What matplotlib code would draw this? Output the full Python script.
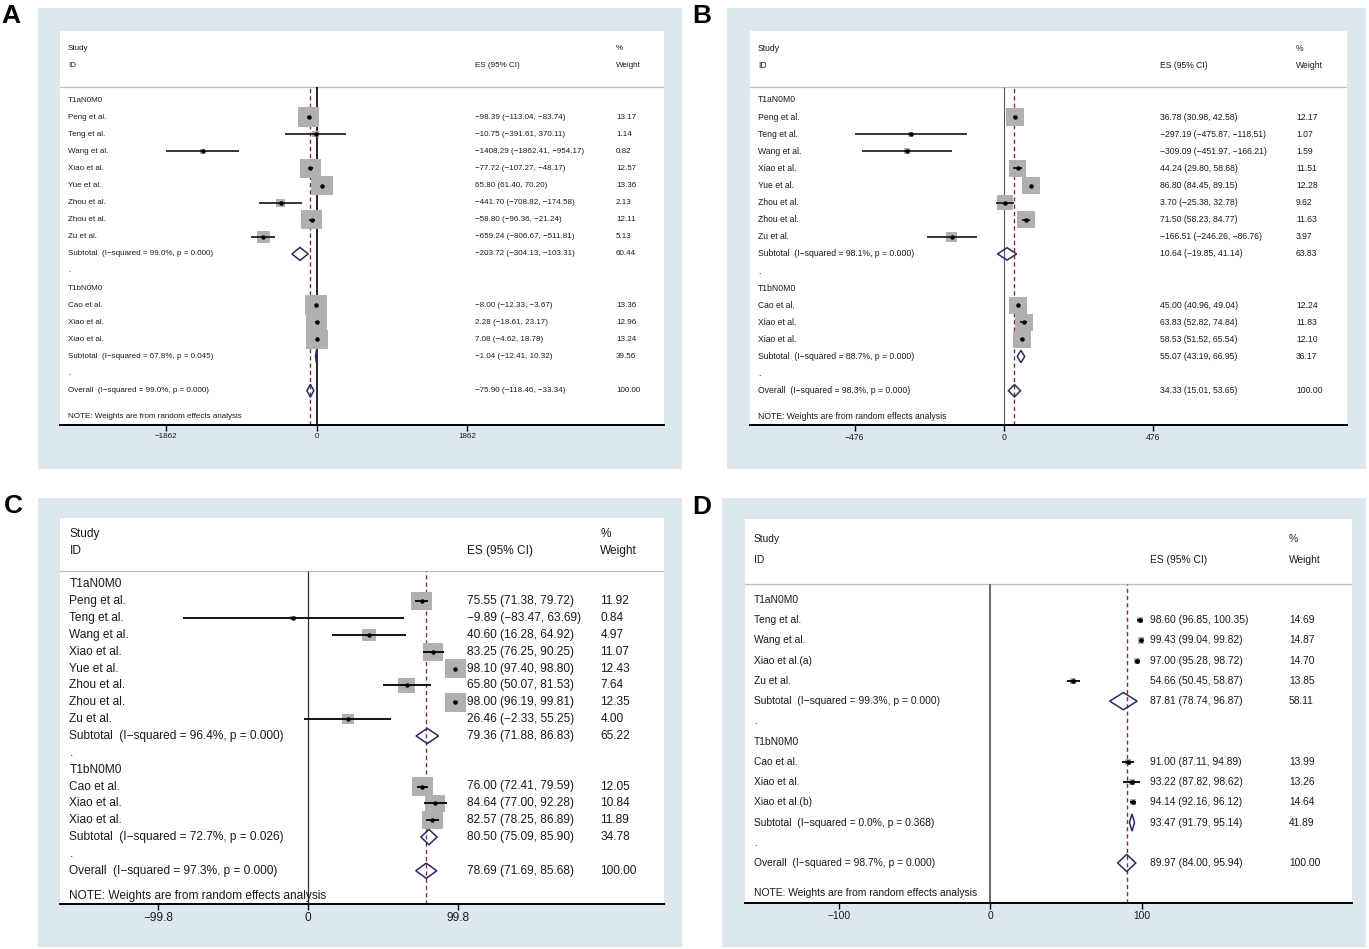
import matplotlib
matplotlib.use('Agg')
import matplotlib.pyplot as plt
from matplotlib.patches import Rectangle, Polygon
import numpy as np

plt.rcParams['font.family'] = ['Liberation Sans', 'DejaVu Sans']

# ---------------- DATA ----------------
group_names = ["T1aN0M0", "T1bN0M0"]

# Panel A
A_g1_study = ["Peng et al.", "Teng et al.", "Wang et al.", "Xiao et al.", "Yue et al.", "Zhou et al.", "Zhou et al.", "Zu et al."]
A_g1_es = [-98.39, -10.75, -1408.29, -77.72, 65.80, -441.70, -58.80, -659.24]
A_g1_lo = [-113.04, -391.61, -1862.41, -107.27, 61.40, -708.82, -96.36, -806.67]
A_g1_hi = [-83.74, 370.11, -954.17, -48.17, 70.20, -174.58, -21.24, -511.81]
A_g1_w = [13.17, 1.14, 0.82, 12.57, 13.36, 2.13, 12.11, 5.13]
A_g2_study = ["Cao et al.", "Xiao et al.", "Xiao et al."]
A_g2_es = [-8.00, 2.28, 7.08]
A_g2_lo = [-12.33, -18.61, -4.62]
A_g2_hi = [-3.67, 23.17, 18.78]
A_g2_w = [13.36, 12.96, 13.24]
A_sum_es = [-203.72, -1.04, -75.90]
A_sum_lo = [-304.13, -12.41, -118.46]
A_sum_hi = [-103.31, 10.32, -33.34]
A_sum_w = [60.44, 39.56, 100.00]
A_sum_i2 = [99.0, 67.8, 99.0]
A_sum_p = [0.000, 0.045, 0.000]
A_ticks = [-1862, 0, 1862]

# Panel B
B_g1_study = ["Peng et al.", "Teng et al.", "Wang et al.", "Xiao et al.", "Yue et al.", "Zhou et al.", "Zhou et al.", "Zu et al."]
B_g1_es = [36.78, -297.19, -309.09, 44.24, 86.80, 3.70, 71.50, -166.51]
B_g1_lo = [30.98, -475.87, -451.97, 29.80, 84.45, -25.38, 58.23, -246.26]
B_g1_hi = [42.58, -118.51, -166.21, 58.68, 89.15, 32.78, 84.77, -86.76]
B_g1_w = [12.17, 1.07, 1.59, 11.51, 12.28, 9.62, 11.63, 3.97]
B_g2_study = ["Cao et al.", "Xiao et al.", "Xiao et al."]
B_g2_es = [45.00, 63.83, 58.53]
B_g2_lo = [40.96, 52.82, 51.52]
B_g2_hi = [49.04, 74.84, 65.54]
B_g2_w = [12.24, 11.83, 12.10]
B_sum_es = [10.64, 55.07, 34.33]
B_sum_lo = [-19.85, 43.19, 15.01]
B_sum_hi = [41.14, 66.95, 53.65]
B_sum_w = [63.83, 36.17, 100.00]
B_sum_i2 = [98.1, 88.7, 98.3]
B_sum_p = [0.000, 0.000, 0.000]
B_ticks = [-476, 0, 476]

# Panel C
C_g1_study = ["Peng et al.", "Teng et al.", "Wang et al.", "Xiao et al.", "Yue et al.", "Zhou et al.", "Zhou et al.", "Zu et al."]
C_g1_es = [75.55, -9.89, 40.60, 83.25, 98.10, 65.80, 98.00, 26.46]
C_g1_lo = [71.38, -83.47, 16.28, 76.25, 97.40, 50.07, 96.19, -2.33]
C_g1_hi = [79.72, 63.69, 64.92, 90.25, 98.80, 81.53, 99.81, 55.25]
C_g1_w = [11.92, 0.84, 4.97, 11.07, 12.43, 7.64, 12.35, 4.00]
C_g2_study = ["Cao et al.", "Xiao et al.", "Xiao et al."]
C_g2_es = [76.00, 84.64, 82.57]
C_g2_lo = [72.41, 77.00, 78.25]
C_g2_hi = [79.59, 92.28, 86.89]
C_g2_w = [12.05, 10.84, 11.89]
C_sum_es = [79.36, 80.50, 78.69]
C_sum_lo = [71.88, 75.09, 71.69]
C_sum_hi = [86.83, 85.90, 85.68]
C_sum_w = [65.22, 34.78, 100.00]
C_sum_i2 = [96.4, 72.7, 97.3]
C_sum_p = [0.000, 0.026, 0.000]
C_ticks = [-99.8, 0, 99.8]

# Panel D
D_g1_study = ["Teng et al.", "Wang et al.", "Xiao et al.(a)", "Zu et al."]
D_g1_es = [98.60, 99.43, 97.00, 54.66]
D_g1_lo = [96.85, 99.04, 95.28, 50.45]
D_g1_hi = [100.35, 99.82, 98.72, 58.87]
D_g1_w = [14.69, 14.87, 14.70, 13.85]
D_g2_study = ["Cao et al.", "Xiao et al.", "Xiao et al.(b)"]
D_g2_es = [91.00, 93.22, 94.14]
D_g2_lo = [87.11, 87.82, 92.16]
D_g2_hi = [94.89, 98.62, 96.12]
D_g2_w = [13.99, 13.26, 14.64]
D_sum_es = [87.81, 93.47, 89.97]
D_sum_lo = [78.74, 91.79, 84.00]
D_sum_hi = [96.87, 95.14, 95.94]
D_sum_w = [58.11, 41.89, 100.00]
D_sum_i2 = [99.3, 0.0, 98.7]
D_sum_p = [0.000, 0.368, 0.000]
D_ticks = [-100, 0, 100]

# ---------------- LAYOUT / STYLE ----------------
W, H = 1369, 949
BG = '#dde7ee'
BOX = '#b0b0b0'
NAVY = '#2a2a66'
RED = '#8e2a36'
TXT = '#1a1a1a'

layouts = {
    'A': dict(bg=(38, 8, 682, 469), white=(60, 31, 664, 425), p0=316.5, ppu=150.5 / 1862,
              r0=100, dr=17.1, hdr=87.3, cx_lab=68, cx_es=475, cx_w=616, fs=5.75,
              kw=5.9, kh=5.35, dh=0.76, zc='black', zlw=1.2, ci_lw=1.1, ms=3.2,
              lab=(11, 16)),
    'B': dict(bg=(727, 8, 1366, 469), white=(750, 31, 1347, 425), p0=1003.7, ppu=149 / 476,
              r0=100, dr=17.1, hdr=86.7, cx_lab=758, cx_es=1160, cx_w=1296, fs=6.2,
              kw=5.25, kh=4.95, dh=0.72, zc='#555555', zlw=0.8, ci_lw=1.1, ms=3.2,
              lab=(702, 16)),
    'C': dict(bg=(38, 498, 682, 947), white=(60, 518, 664, 904), p0=308, ppu=150 / 99.8,
              r0=584.3, dr=16.85, hdr=571, cx_lab=69.4, cx_es=467, cx_w=600.4, fs=8.6,
              kw=6.1, kh=5.3, dh=0.9, zc='#333333', zlw=0.9, ci_lw=1.3, ms=3.2,
              lab=(13, 506)),
    'D': dict(bg=(722, 498, 1366, 947), white=(745, 519, 1352, 903), p0=990.4, ppu=151.5 / 100,
              r0=600, dr=20.23, hdr=584, cx_lab=754, cx_es=1150, cx_w=1289, fs=7.4,
              kw=1.6, kh=1.6, dh=0.85, zc='#6e6e6e', zlw=1.5, ci_lw=1.3, ms=3.4,
              lab=(702, 507)),
}

panels = {
    'A': dict(g1=(A_g1_study, A_g1_es, A_g1_lo, A_g1_hi, A_g1_w),
              g2=(A_g2_study, A_g2_es, A_g2_lo, A_g2_hi, A_g2_w),
              s=(A_sum_es, A_sum_lo, A_sum_hi, A_sum_w, A_sum_i2, A_sum_p), ticks=A_ticks),
    'B': dict(g1=(B_g1_study, B_g1_es, B_g1_lo, B_g1_hi, B_g1_w),
              g2=(B_g2_study, B_g2_es, B_g2_lo, B_g2_hi, B_g2_w),
              s=(B_sum_es, B_sum_lo, B_sum_hi, B_sum_w, B_sum_i2, B_sum_p), ticks=B_ticks),
    'C': dict(g1=(C_g1_study, C_g1_es, C_g1_lo, C_g1_hi, C_g1_w),
              g2=(C_g2_study, C_g2_es, C_g2_lo, C_g2_hi, C_g2_w),
              s=(C_sum_es, C_sum_lo, C_sum_hi, C_sum_w, C_sum_i2, C_sum_p), ticks=C_ticks),
    'D': dict(g1=(D_g1_study, D_g1_es, D_g1_lo, D_g1_hi, D_g1_w),
              g2=(D_g2_study, D_g2_es, D_g2_lo, D_g2_hi, D_g2_w),
              s=(D_sum_es, D_sum_lo, D_sum_hi, D_sum_w, D_sum_i2, D_sum_p), ticks=D_ticks),
}


def num(v):
    return f"{v:.2f}".replace('-', '\u2212')


def tick_txt(v):
    s = f"{v:g}"
    return s.replace('-', '\u2212')


fig = plt.figure(figsize=(W / 100, H / 100), dpi=100)
fig.patch.set_facecolor('white')

# background panels drawn on an axes underneath everything
bg_ax = fig.add_axes([0, 0, 1, 1], zorder=-10)
bg_ax.set_xlim(0, W)
bg_ax.set_ylim(H, 0)
bg_ax.axis('off')


def draw(name):
    L = layouts[name]
    Dd = panels[name]
    bx0, by0, bx1, by1 = L['bg']
    bg_ax.add_patch(Rectangle((bx0, by0), bx1 - bx0, by1 - by0, facecolor=BG, edgecolor='none'))
    bg_ax.text(L['lab'][0], L['lab'][1], name, fontsize=19, fontweight='bold',
               ha='center', va='center', color='black')
    x0, y0, x1, y1 = L['white']
    ax = fig.add_axes([x0 / W, 1 - y1 / H, (x1 - x0) / W, (y1 - y0) / H], zorder=1)
    ax.set_facecolor('white')
    p0, ppu, r0, dr = L['p0'], L['ppu'], L['r0'], L['dr']
    xd = lambda px: (px - p0) / ppu
    yd = lambda py: (py - r0) / dr
    ybot = yd(y1)
    ax.set_xlim(xd(x0), xd(x1))
    ax.set_ylim(ybot, yd(y0))
    for s in ['top', 'left', 'right']:
        ax.spines[s].set_visible(False)
    ax.spines['bottom'].set_linewidth(1.4)
    ax.spines['bottom'].set_color('black')
    ax.set_yticks([])
    ax.set_xticks(Dd['ticks'])
    ax.set_xticklabels([tick_txt(t) for t in Dd['ticks']], fontsize=L['fs'], color=TXT)
    ax.tick_params(axis='x', length=4.3, width=1.0, pad=1.5, direction='out', color='black')

    fs = L['fs']
    hdr_i = yd(L['hdr'])
    # header
    ax.axhline(hdr_i, color='#bdbdbd', lw=0.9, zorder=1)
    xl, xe, xw = xd(L['cx_lab']), xd(L['cx_es']), xd(L['cx_w'])
    ax.text(xl, -3, "Study", fontsize=fs, ha='left', va='center', color=TXT)
    ax.text(xl, -2, "ID", fontsize=fs, ha='left', va='center', color=TXT)
    ax.text(xw, -3, "%", fontsize=fs, ha='left', va='center', color=TXT)
    ax.text(xw, -2, "Weight", fontsize=fs, ha='left', va='center', color=TXT)
    ax.text(xe, -2, "ES (95% CI)", fontsize=fs, ha='left', va='center', color=TXT)

    s_es, s_lo, s_hi, s_w, s_i2, s_p = Dd['s']
    # reference lines
    ax.vlines(0, ybot, hdr_i, colors=L['zc'], lw=L['zlw'], zorder=2)
    ax.vlines(s_es[2], ybot, hdr_i, colors=RED, lw=1.0, linestyles=(0, (3, 2.2)), zorder=2)

    row = 0

    def study_rows(grp, row):
        st, es, lo, hi, w = grp
        for k in range(len(st)):
            row += 1
            bw = L['kw'] * np.sqrt(w[k]) / ppu
            bh = L['kh'] * np.sqrt(w[k]) / dr
            ax.add_patch(Rectangle((es[k] - bw / 2, row - bh / 2), bw, bh,
                                   facecolor=BOX, edgecolor='none', zorder=3))
            ax.plot([lo[k], hi[k]], [row, row], color='black', lw=L['ci_lw'], zorder=4,
                    solid_capstyle='butt')
            ax.plot([es[k]], [row], marker='o', ms=L['ms'], color='black', mec='none', zorder=5)
            ax.text(xl, row, st[k], fontsize=fs, ha='left', va='center', color=TXT)
            ax.text(xe, row, f"{num(es[k])} ({num(lo[k])}, {num(hi[k])})", fontsize=fs,
                    ha='left', va='center', color=TXT)
            ax.text(xw, row, f"{w[k]:.2f}", fontsize=fs, ha='left', va='center', color=TXT)
        return row

    def summary_row(j, row, label):
        h = L['dh']
        ax.add_patch(Polygon([(s_lo[j], row), (s_es[j], row - h / 2), (s_hi[j], row),
                              (s_es[j], row + h / 2)], closed=True, fill=False,
                             edgecolor=NAVY, lw=1.1, zorder=6))
        ax.text(xl, row, f"{label}  (I\u2212squared = {s_i2[j]:.1f}%, p = {s_p[j]:.3f})",
                fontsize=fs, ha='left', va='center', color=TXT)
        ax.text(xe, row, f"{num(s_es[j])} ({num(s_lo[j])}, {num(s_hi[j])})", fontsize=fs,
                ha='left', va='center', color=TXT)
        ax.text(xw, row, f"{s_w[j]:.2f}", fontsize=fs, ha='left', va='center', color=TXT)

    ax.text(xl, row, group_names[0], fontsize=fs, ha='left', va='center', color=TXT)
    row = study_rows(Dd['g1'], row)
    row += 1
    summary_row(0, row, "Subtotal")
    row += 1
    ax.text(xl, row, ".", fontsize=fs, ha='left', va='center', color=TXT)
    row += 1
    ax.text(xl, row, group_names[1], fontsize=fs, ha='left', va='center', color=TXT)
    row = study_rows(Dd['g2'], row)
    row += 1
    summary_row(1, row, "Subtotal")
    row += 1
    ax.text(xl, row, ".", fontsize=fs, ha='left', va='center', color=TXT)
    row += 1
    summary_row(2, row, "Overall")
    ax.text(xl, row + 1.5, "NOTE: Weights are from random effects analysis", fontsize=fs,
            ha='left', va='center', color=TXT)


for nm in ['A', 'B', 'C', 'D']:
    draw(nm)

fig.savefig('out.png', dpi=100, facecolor='white')
